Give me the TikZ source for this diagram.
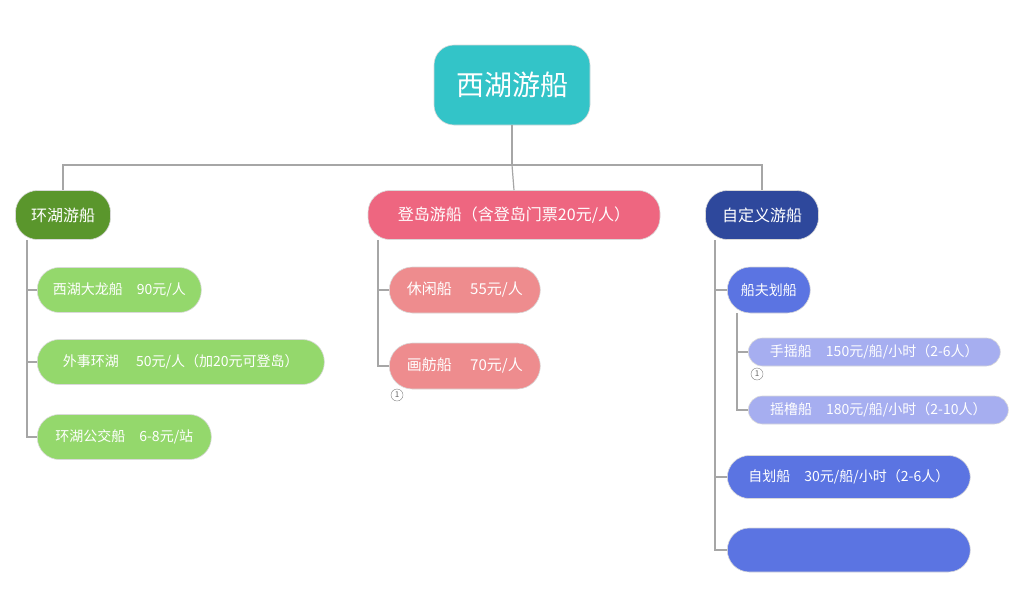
\documentclass[tikz,border=0pt]{standalone}
\usepackage{fontspec}
\setmainfont{Noto Sans CJK SC}
\begin{document}
\begin{tikzpicture}[x=1pt,y=-1pt,
  box/.style={rounded corners=#1,inner sep=0pt,text=white,draw=black!15,line width=0.6pt},
  ln/.style={draw=black!35,line width=1.2pt},
  num/.style={circle,draw=black!50,inner sep=0pt,minimum size=12pt,font=\fontsize{8}{8}\selectfont,text=black!60}]
\definecolor{teal}{HTML}{33C4C8}
\definecolor{dgreen}{HTML}{5A962C}
\definecolor{lgreen}{HTML}{94D86C}
\definecolor{pinkA}{HTML}{EE6680}
\definecolor{pinkB}{HTML}{EE8C8E}
\definecolor{navy}{HTML}{2E489C}
\definecolor{blueA}{HTML}{5B74E2}
\definecolor{blueB}{HTML}{A6AEF0}
\useasboundingbox (0,0) rectangle (1024,605);
\path[fill=white] (0,0) rectangle (1024,605);
\tikzset{mk/.style args={#1/#2/#3/#4/#5}{box=#5,fill=#1,minimum width=#2,minimum height=#3,font=\fontsize{#4}{#4}\selectfont}}
\node[mk=teal/156/80/28/20] (root) at (512,85) {西湖游船};
\node[mk=dgreen/95/49/16/22] (a) at (63,215) {环湖游船};
\node[mk=pinkA/292/49/16/22] (b) at (514,215) {登岛游船（含登岛门票20元/人）};
\node[mk=navy/113/49/16/22] (c) at (762,215) {自定义游船};
\draw[ln] (root.south) -- (512,165) coordinate (h);
\draw[ln] (h) -| (a.north);
\draw[ln] (h) -| (c.north);
\draw[ln] (h) -- (b.north);
% green
\node[mk=lgreen/164/45/14/22,anchor=west] (a1) at (37,290) {西湖大龙船\quad 90元/人};
\node[mk=lgreen/287/45/14/22,anchor=west] (a2) at (37,362) {外事环湖\quad\ 50元/人（加20元可登岛）};
\node[mk=lgreen/174/45/14/22,anchor=west] (a3) at (37,437) {环湖公交船\quad 6-8元/站};
\draw[ln] (27,240) |- (a3.west);
\draw[ln] (27,290) -- (a1.west);
\draw[ln] (27,362) -- (a2.west);
% pink
\node[mk=pinkB/151/46/15/23,anchor=west] (b1) at (389,290) {休闲船\quad\ 55元/人};
\node[mk=pinkB/151/46/15/23,anchor=west] (b2) at (389,366) {画舫船\quad\ 70元/人};
\draw[ln] (378,240) |- (b2.west);
\draw[ln] (378,290) -- (b1.west);
\node[num] (n1) at (397,395) {1};
% blue
\node[mk=blueA/83/46/14/23,anchor=west] (c1) at (727,290) {船夫划船};
\node[mk=blueB/252/28/14/14,anchor=west] (c11) at (748,352) {手摇船\quad 150元/船/小时（2-6人）};
\node[mk=blueB/260/28/14/14,anchor=west] (c12) at (748,410) {摇橹船\quad 180元/船/小时（2-10人）};
\draw[ln] (737,313) |- (c12.west);
\draw[ln] (737,352) -- (c11.west);
\node[num] (n2) at (757,374) {1};
\node[mk=blueA/243/43/14/22,anchor=west] (c2) at (727,477) {自划船\quad 30元/船/小时（2-6人）};
\node[mk=blueA/243/44/14/22,anchor=west] (c3) at (727,550) {};
\draw[ln] (715,240) |- (c3.west);
\draw[ln] (715,290) -- (c1.west);
\draw[ln] (715,477) -- (c2.west);
\end{tikzpicture}
\end{document}
